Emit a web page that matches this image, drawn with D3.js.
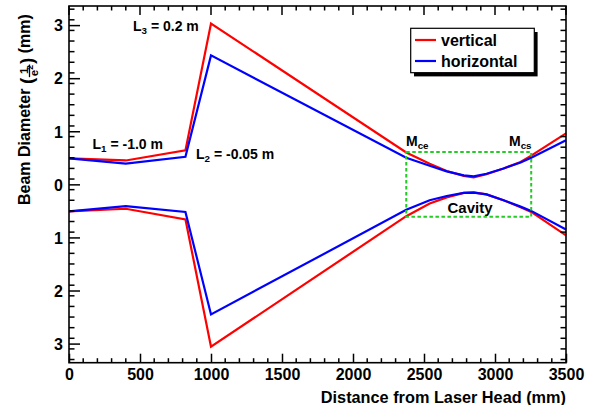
<!DOCTYPE html>
<html>
<head>
<meta charset="utf-8">
<script src="https://cdn.jsdelivr.net/npm/d3@7"></script>
<style>
html,body{margin:0;padding:0;background:#fff;}
svg{display:block;}
text{font-family:"Liberation Sans",Arial,Helvetica,sans-serif;font-weight:bold;fill:#000;}
</style>
</head>
<body>
<script>
// ---- data ----
const positions = [0, 400, 820, 1000, 2375, 2540, 2660, 2780, 2850, 2940, 3060, 3180, 3255, 3500];
const verticalUpper   = [0.49, 0.45, 0.64, 3.03, 0.60, 0.39, 0.25, 0.16, 0.13, 0.19, 0.30, 0.42, 0.54, 0.96];
const horizontalUpper = [0.49, 0.39, 0.52, 2.43, 0.50, 0.35, 0.245, 0.17, 0.15, 0.20, 0.30, 0.41, 0.50, 0.83];
const verticalLower   = [-0.51, -0.46, -0.66, -3.06, -0.60, -0.36, -0.245, -0.16, -0.15, -0.19, -0.30, -0.43, -0.52, -0.96];
const horizontalLower = [-0.51, -0.41, -0.52, -2.45, -0.48, -0.30, -0.22, -0.16, -0.155, -0.19, -0.30, -0.42, -0.50, -0.85];
const cavityX = [2375, 3255];
const cavityHalf = [0.61, -0.61];
const xTicks = [0, 500, 1000, 1500, 2000, 2500, 3000, 3500];
const yTicks = [-3, -2, -1, 0, 1, 2, 3];
const seriesNames = ["vertical", "horizontal"];
const seriesColors = ["#ff0000", "#0000ff"];

const W = 597, H = 405;
const L = 69, R = 566, T = 6, B = 362.7;
const x = d3.scaleLinear().domain([0, 3500]).range([L, R]);
const y = d3.scaleLinear().domain([-3.36, 3.36]).range([B, T]);

const svg = d3.select("body").append("svg").attr("width", W).attr("height", H);

// curves
const line = d3.line().x(d => x(d[0])).y(d => y(d[1]));
const curves = [
  [verticalUpper, 0], [verticalLower, 0],
  [horizontalUpper, 1], [horizontalLower, 1]
];
curves.forEach(([vals, s]) => {
  svg.append("path")
    .datum(positions.map((p, i) => [p, vals[i]]))
    .attr("d", line)
    .attr("fill", "none")
    .attr("stroke", seriesColors[s])
    .attr("stroke-width", 2.2)
    .attr("stroke-linejoin", "miter");
});

// cavity box
svg.append("rect")
  .attr("x", x(cavityX[0])).attr("y", y(cavityHalf[0]))
  .attr("width", x(cavityX[1]) - x(cavityX[0]))
  .attr("height", y(cavityHalf[1]) - y(cavityHalf[0]))
  .attr("fill", "none").attr("stroke", "#22cc22")
  .attr("stroke-width", 2).attr("stroke-dasharray", "3.5,2.5");

// axes
const xAxis = d3.axisBottom(x).tickValues(xTicks).tickSize(9).tickPadding(4).tickFormat(d3.format("d"));
const gx = svg.append("g").attr("transform", `translate(0,${B})`).call(xAxis);
const yAxis = d3.axisLeft(y).tickValues(yTicks).tickSize(11).tickPadding(5).tickFormat(d => Math.abs(d));
const gy = svg.append("g").attr("transform", `translate(${L},0)`).call(yAxis);
[gx, gy].forEach(g => {
  g.select(".domain").remove();
  g.selectAll("line").attr("stroke", "#000").attr("stroke-width", 1.5);
  g.selectAll("text").attr("font-size", 16).attr("fill", "#000")
    .style("font-family", "'Liberation Sans',Arial,sans-serif").style("font-weight", "bold");
});
gx.selectAll("line").attr("y2", -9);
gx.selectAll("text").attr("y", 0).attr("dy", 0).attr("transform", "translate(0,17)");
gy.selectAll("line").attr("x2", 11);
gy.selectAll("text").attr("x", -6).attr("dy", "0.36em");

// minor ticks and opposite ticks
const minorX = d3.range(0, 3501, 100);
const minorY = d3.range(-33, 34, 2).map(v => v / 10);
const tk = svg.append("g").attr("stroke", "#000").attr("stroke-width", 1.5);
minorX.forEach(v => {
  const isMajor = v % 500 === 0;
  const lb = isMajor ? 9 : 4.5;
  if (!isMajor) tk.append("line").attr("x1", x(v)).attr("x2", x(v)).attr("y1", B).attr("y2", B - lb);
  tk.append("line").attr("x1", x(v)).attr("x2", x(v)).attr("y1", T).attr("y2", T + lb);
});
minorY.forEach(v => {
  const isMajor = Math.abs(v - Math.round(v)) < 1e-9;
  const lb = isMajor ? 11 : 5.5;
  if (!isMajor) tk.append("line").attr("x1", L).attr("x2", L + lb).attr("y1", y(v)).attr("y2", y(v));
  tk.append("line").attr("x1", R).attr("x2", R - lb).attr("y1", y(v)).attr("y2", y(v));
});

// frame
svg.append("rect").attr("x", L).attr("y", T).attr("width", R - L).attr("height", B - T)
  .attr("fill", "none").attr("stroke", "#000").attr("stroke-width", 1.6);

// x title
svg.append("text").attr("x", R).attr("y", 403).attr("text-anchor", "end")
  .attr("font-size", 16.3).text("Distance from Laser Head (mm)");

// y title (rotated, with fraction)
const SP = 4.5;
const yt = svg.append("g").attr("transform", "translate(30,205) rotate(-90)");
let cx = 0;
const t1 = yt.append("text").attr("x", 0).attr("y", 0).attr("font-size", 16).text("Beam Diameter");
cx += t1.node().getComputedTextLength() + SP;
const p1 = yt.append("text").attr("x", cx).attr("y", 3).attr("font-size", 19).text("(");
cx += p1.node().getComputedTextLength() + 0.5;
const eT = yt.append("text").attr("x", cx + 1).attr("y", 7.5).attr("font-size", 11.5).text("e");
const eW = eT.node().getComputedTextLength();
const sup = yt.append("text").attr("x", cx + 1 + eW).attr("y", 2.5).attr("font-size", 8.5).text("2");
const fracW = eW + sup.node().getComputedTextLength() + 1.5;
const num = yt.append("text").attr("y", -2.5).attr("font-size", 11.5).text("1");
num.attr("x", cx + (fracW - num.node().getComputedTextLength()) / 2);
yt.append("line").attr("x1", cx).attr("x2", cx + fracW).attr("y1", -0.5).attr("y2", -0.5)
  .attr("stroke", "#000").attr("stroke-width", 1.3);
cx += fracW + 0.5;
const p2 = yt.append("text").attr("x", cx).attr("y", 3).attr("font-size", 19).text(")");
cx += p2.node().getComputedTextLength() + SP;
yt.append("text").attr("x", cx).attr("y", 0).attr("font-size", 16).text("(mm)");

// annotations
function labelSub(xp, yp, main, sub, rest, fs) {
  const t = svg.append("text").attr("x", xp).attr("y", yp).attr("font-size", fs)
    .attr("xml:space", "preserve").style("white-space", "pre");
  t.append("tspan").text(main);
  t.append("tspan").attr("font-size", fs * 0.7).attr("dy", 3).text(sub);
  if (rest) t.append("tspan").attr("dy", -3).text(rest);
}
labelSub(133, 31, "L", "3", " = 0.2 m", 14);
labelSub(92.5, 148.5, "L", "1", " = -1.0 m", 14);
labelSub(196, 158.5, "L", "2", " = -0.05 m", 14);
labelSub(406, 146, "M", "ce", null, 14);
labelSub(509, 146, "M", "cs", null, 14);
svg.append("text").attr("x", 447.5).attr("y", 212.5).attr("font-size", 15).text("Cavity");

// legend
const lg = svg.append("g");
lg.append("rect").attr("x", 414).attr("y", 32).attr("width", 123.6).attr("height", 44.4).attr("fill", "#000");
lg.append("rect").attr("x", 410.7).attr("y", 28.3).attr("width", 123.6).attr("height", 44.4)
  .attr("fill", "#fff").attr("stroke", "#000").attr("stroke-width", 1.2);
seriesNames.forEach((n, i) => {
  const yy = 40 + i * 21;
  lg.append("line").attr("x1", 415).attr("x2", 436).attr("y1", yy).attr("y2", yy)
    .attr("stroke", seriesColors[i]).attr("stroke-width", 2.2);
  lg.append("text").attr("x", 441).attr("y", yy + 6).attr("font-size", 16).text(n);
});
</script>
</body>
</html>
